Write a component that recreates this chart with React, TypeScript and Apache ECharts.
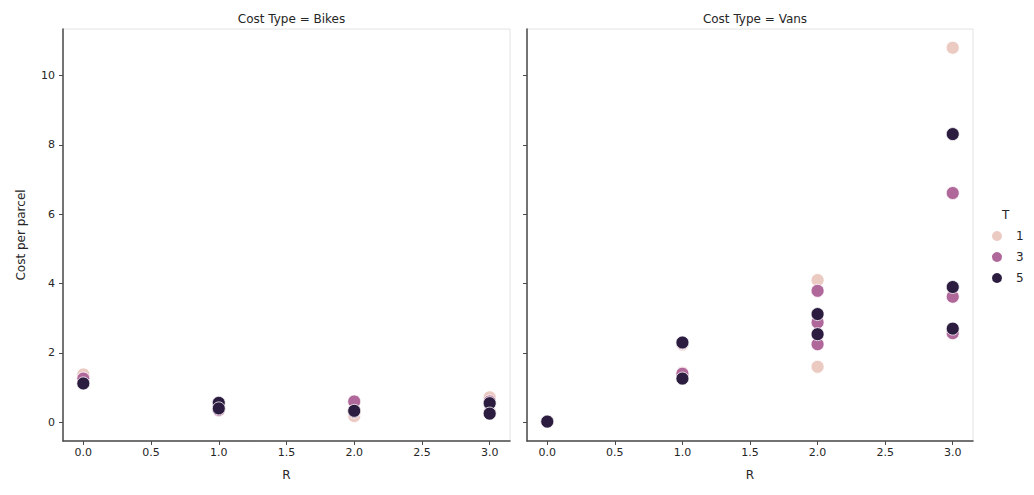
import React, { useEffect, useRef } from "react";
import * as echarts from "echarts";

const panelTitles = ["Cost Type = Bikes", "Cost Type = Vans"];
const hueLevels = ["1", "3", "5"];
const hueColors = ["#ebcac2", "#b0679a", "#2c1d40"];
const xTicks = [0, 0.5, 1, 1.5, 2, 2.5, 3];
const yTicks = [0, 2, 4, 6, 8, 10];

// [R, cost per parcel]
const bikesT1 = [[0, 1.38], [1, 0.34], [1, 0.46], [2, 0.18], [2, 0.36], [3, 0.72], [3, 0.3]];
const bikesT3 = [[0, 1.26], [1, 0.44], [1, 0.36], [2, 0.6], [2, 0.3], [3, 0.6], [3, 0.28]];
const bikesT5 = [[0, 1.12], [1, 0.56], [1, 0.4], [2, 0.33], [3, 0.55], [3, 0.25]];

const vansT1 = [[0, 0.02], [1, 2.24], [1, 1.43], [2, 4.1], [2, 1.6], [3, 10.8], [3, 2.6]];
const vansT3 = [[0, 0.02], [1, 1.4], [1, 2.28], [2, 3.79], [2, 2.88], [2, 2.25], [3, 6.61], [3, 3.62], [3, 2.57]];
const vansT5 = [[0, 0.02], [1, 2.3], [1, 1.26], [2, 3.12], [2, 2.54], [3, 8.31], [3, 3.9], [3, 2.7]];

const panelData = [
  [bikesT1, bikesT3, bikesT5],
  [vansT1, vansT3, vansT5],
];

const FONT = "DejaVu Sans";

export default function App() {
  const ref = useRef<HTMLDivElement>(null);
  useEffect(() => {
    if (!ref.current) return;
    const chart = echarts.init(ref.current, null, { renderer: "svg" });
    const grids = [
      { left: 55, top: 21, width: 447, height: 412 },
      { left: 519, top: 21, width: 446, height: 412 },
    ];
    const mkX = (i: number) => ({
      type: "value",
      gridIndex: i,
      min: -0.15,
      max: 3.15,
      name: "R",
      nameLocation: "middle",
      nameGap: 28,
      nameTextStyle: { fontFamily: FONT, fontSize: 12, color: "#262626" },
      splitLine: { show: false },
      axisLine: { show: true, onZero: false, lineStyle: { color: "#4a4a4a", width: 1.5 } },
      axisTick: { show: true, length: 4, lineStyle: { color: "#4a4a4a" }, customValues: xTicks },
      axisLabel: {
        customValues: xTicks,
        fontFamily: FONT,
        fontSize: 11,
        color: "#262626",
        margin: 6,
        formatter: (v: number) => v.toFixed(1),
      },
    });
    const mkY = (i: number) => ({
      type: "value",
      gridIndex: i,
      min: -0.54,
      max: 11.34,
      name: i === 0 ? "Cost per parcel" : "",
      nameLocation: "middle",
      nameGap: 36,
      nameTextStyle: { fontFamily: FONT, fontSize: 12, color: "#262626" },
      splitLine: { show: false },
      axisLine: { show: true, onZero: false, lineStyle: { color: "#4a4a4a", width: 1.5 } },
      axisTick: { show: true, length: 4, lineStyle: { color: "#4a4a4a" }, customValues: yTicks },
      axisLabel: {
        show: i === 0,
        customValues: yTicks,
        fontFamily: FONT,
        fontSize: 11,
        color: "#262626",
        margin: 8,
      },
    });
    const series: any[] = [];
    panelData.forEach((sets, p) => {
      sets.forEach((d, k) => {
        series.push({
          type: "scatter",
          name: hueLevels[k],
          xAxisIndex: p,
          yAxisIndex: p,
          data: d,
          symbolSize: 13,
          itemStyle: { color: hueColors[k], borderColor: "#ffffff", borderWidth: 0.8, opacity: 1 },
          emphasis: { disabled: true },
        });
      });
    });
    chart.setOption({
      animation: false,
      backgroundColor: "#ffffff",
      textStyle: { fontFamily: FONT },
      title: panelTitles.map((t, i) => ({
        text: t,
        left: grids[i].left + grids[i].width / 2,
        textAlign: "center",
        top: 0,
        textStyle: { fontFamily: FONT, fontSize: 12, fontWeight: "normal", color: "#262626" },
      })),
      grid: grids.map((g) => ({
        ...g,
        show: true,
        borderColor: "#e3e3e3",
        borderWidth: 1,
        backgroundColor: "transparent",
      })),
      xAxis: [mkX(0), mkX(1)],
      yAxis: [mkY(0), mkY(1)],
      legend: {
        data: hueLevels,
        orient: "vertical",
        left: 977,
        top: 216,
        itemGap: 7,
        itemWidth: 12,
        itemHeight: 12,
        icon: "circle",
        textStyle: { fontFamily: FONT, fontSize: 12, color: "#262626", padding: [0, 0, 0, 8] },
        selectedMode: false,
      },
      graphic: [
        {
          type: "text",
          left: 994,
          top: 201,
          style: { text: "T", fontFamily: FONT, fontSize: 12, fill: "#262626" },
        },
      ],
      series,
    });
    return () => chart.dispose();
  }, []);
  return <div ref={ref} style={{ width: 1018, height: 479 }} />;
}
